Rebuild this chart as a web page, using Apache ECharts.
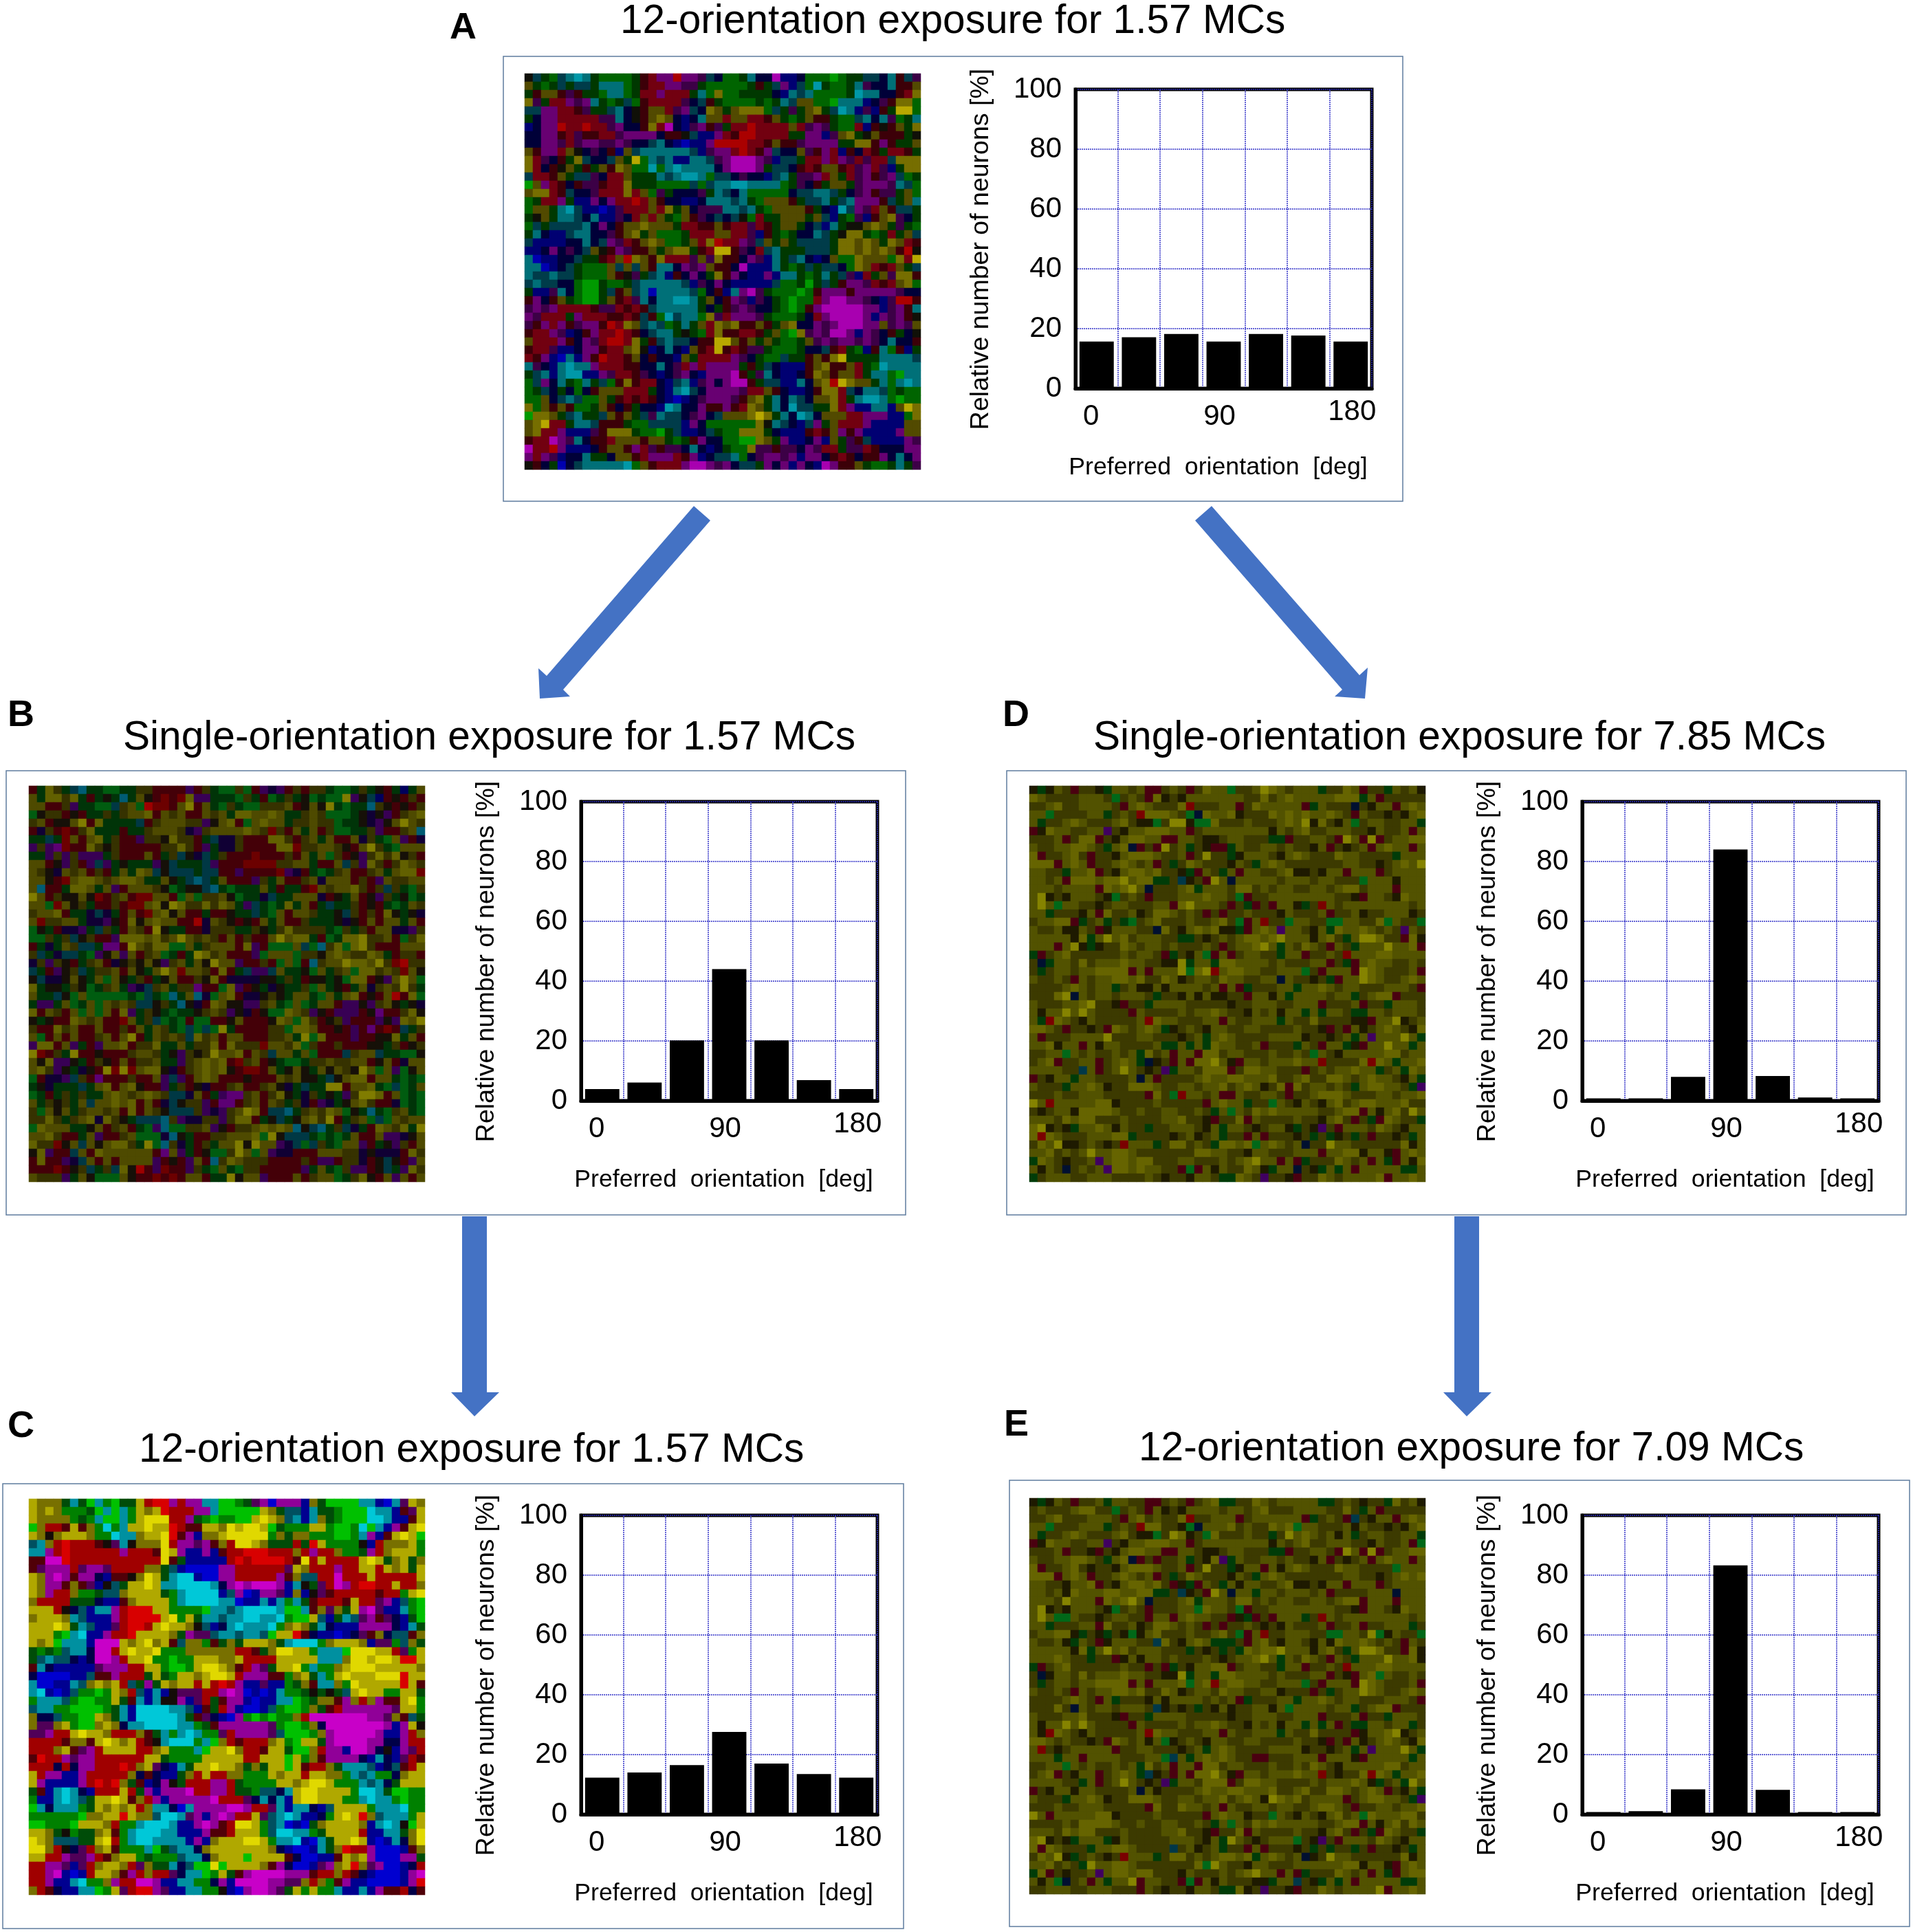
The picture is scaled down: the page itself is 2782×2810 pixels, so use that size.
<!DOCTYPE html>
<html><head><meta charset="utf-8">
<style>html,body{margin:0;padding:0;background:#fff}#c{width:2782px;height:2810px}</style>
<script src="https://cdn.jsdelivr.net/npm/echarts@6/dist/echarts.min.js"></script>
</head><body><div id="c"></div>
<script>
const orientations = ['0','30','60','90','120','150','180'];
const barsA = [15.7,17.1,18.2,15.7,18.2,17.7,15.7];
const barsB = [3.9,6.1,20.2,44,20.2,6.9,3.9];
const barsC = [12.3,14,16.5,27.6,17,13.5,12.3];
const barsD = [0.8,0.8,8,84,8.3,1.1,0.8];
const barsE = [0.8,1.1,8.4,83.3,8.2,0.8,0.8];
const titles = ['12-orientation exposure for 1.57 MCs','Single-orientation exposure for 1.57 MCs','12-orientation exposure for 1.57 MCs','Single-orientation exposure for 7.85 MCs','12-orientation exposure for 7.09 MCs'];
const letters = ['A','B','C','D','E'];

// Orientation maps: one letter per cell (48 rows x 48 columns).
const mapA = [
'k43g4cCc 3gggg31r mmRmm645 gg3c55Mb b5gggGg3 3445c146',
'o3g34344 3cccg31r rmm663gg ggg3134m b4gC3gg3 c655c11o',
'31oo1613 3gccg3rr mrrr3cgy gg33335b c4cgggg3 Ccc551ry',
'y63rrm6m c3g34g1r rrr65413 gggg3g3c 4ooggGcc cb561yyg',
'44mmrr16 334c5k1o or6m45yo 3oyyyg43 63oy34Cc b6b13YYg',
'35mmrrrr r66c5k1o yo5b5coo roorr1o3 g3o113gg 4c5c6g3c',
'b5mmRrrR rr6m551y rM5b6m16 3rrRrrrr or6m63gg rb1k1o3y',
'55mm1r61 1rr6mmmm 511k4bbm r1RRrrrr 33mmb6oy 3ko1113k',
'55mm6r6m m66m6554 c5bBbbmR RRRrr1o1 16mmmm33 yy1m133o',
'o1mmrok5 651bo4cc cccc4b6m mrRr1m45 5o61mrb1 5r13rr13',
'yr6513y4 554o3Ygc 4cbbcc46 mMMMm6b4 43rrmrm6 r6rr4yyy',
'yr51ko31 3o1yoggC gcCcccc5 mMMMm344 51r1oo1r 6mr6b3yy',
'4rr1o344 65rro333 c4cCCcg4 45655b4c 366mro3r 6m16m4g3',
'Gomr1516 61rry333 gggg4g4c cCCccccg 36513oo3 6mmm6c4g',
'oyyr1455 6rrryrog 6355563c 45cggggg 544cc435 6m1663og',
'g3rrm3bb m5mrrRro 155bb5cc c4c3gooo 1344c34c mmm143oc',
'goo3cC4b bBb6rrro ry3o5666 cc4c3goo oo135bC4 m6ro1443',
'3ko3cc45 cbb65ror o3go1654 54kgr33o oo3o4b3g 6b1oy653',
'g434444c 5m51ooyo oo3rr11o 1rr6r13o o354bc3k koyo363g',
'3c5bb4cc 5561oy3o ggg3rrro orr6b13g 355c43ky y3g3r3o4',
'4bbbb55c 54m6r1oy ogg3oryR rrm64o3o 344443yy oyo3yor1',
'bb5m5654 ok1m611o 3oyy31rY Y165r4c3 334443yy oyoyo1Rk',
'cBbb5543 31roRyo1 yrrr6o6y 115m6bc3 4c5b5ogg yooogyrY',
'ccBb543g ggo4o4o1 cc5m6mo1 15Mbbbc3 g343445g yor1ro34',
'c44c443g ggo1k634 cb15m53y 1m5bbmbc c3g3c346 br3o6yy1',
'4c4455gG G3gg34cc ccc4b65m 5bbbbb4g g3G3431m m6r1royg',
'3bb6c5gG G341o4cB cccc4g51 bcmM63gg gGg1mmm1 mmmmm655',
'1m51o3gG G3o1r6c5 ccCCc3o5 1m6b653g GggrmMMm m65b6RR1',
'6m6mrrrr 166r1r14 ccccc353 16m6553g Gg1mMMMM Mmmb6m1c',
'm6rrr3mr rr11r141 gC4ccgy6 rmmm63gg g35rmMMM Mmbm6m1k',
'61mrm16m m1Rryo4c 4g3c3ory oy11o13o y55m6mMM Mmmo6m6o',
'1rrm6b51 mrrRr154 cc3k3gry 11rr13og Gy6m6MMm bm65135k',
'orrrm15m 6rRRry31 4c44511Y Yo1o3o3g g3o6m6mm 6m65c551',
'1rr6bb5m m1rroykb 5c5bo1rY 1r1663gg g35541r3 gb1cg1b3',
'r1mbBcbm 1Rrr1o51 55bo3rrr rm653gg4 331o1yY3 333cccc4',
'c65bcCcc mrrr1155 c56rmrmm mm31345b bb1oy11o r3gCcccc',
'34cbcCCb bm6rr165 b56m5bmm mM136c5b b51yo1oo r3ccgGcc',
'g4m5c3gc 34g1y1rr 5b4cb6m5 mMM1344b bc5oyRYy oo3cgcCc',
'g34535g5 1ooorrr3 5bcC45mm mm6rro15 bb51yyr4 5cc4g3gg',
'ggo54c4g go31r1r1 5bBb56mm m61oy3c5 c45ooyr3 cCCcgGgg',
'ygo1o1gg 3o151355 bCc55m11 m1ryo3c5 C4433yrm bbccboYy',
'Gyyo34c3 34o1o346 c4456m54 oooyYy3c 5Cc5ooor rmmmbbgy',
'oyYrr3cc 41113gg4 444bm5gg ggggykc4 5b4m3orr rmbbbboo',
'oyrrmbbb 61yyy3gg G34bb543 ggyyy35b bb1r1om1 mbbbbmoo',
'1rrMm6c5 11rooo1o o3g31m55 ggGGyo3m bb5mbo36 14bbbbm6',
'MrrRmbbb 51oo1mr6 1665c5b5 3ggy6616 65m6rr36 6r1555mm',
'mrm6b55c 335oo1rm mmr1mb54 4cg56mm6 mbmm51r1 511m5c5m',
'k153B54c ccccCgo1 rrrmMMm6 m5443m5m bm5bMm11 o3gg3c36'
];
const mapB = [
'13ld34c3 3gg33dd1 11161d3g gdg16561 d1dd3gg3 d3k13b3o',
'o3lldl31 3k3c3ok1 r1rl6633 3gd31g3d 3kg3ggy6 k4b1k1d1',
'oo11d633 gg4dogRr r1oy1o3g d3ggdddo 1koky3g3 3cdk1k1d',
'gkdd1k13 3d3dool1 odo11odo 3lloolo3 3dodggg3 k5k61dol',
'do1kkoy1 l333341d ooodd6ko l1goloo3 ddoddg33 k56koyod',
'15d1r1dl 333133do ood56doo oolodrd1 o3o1dgg3 3d611doc',
'3343ro1o l3d116dd kldd1345 5d111lld 1do3o11o 5d3go615',
'6d6mr11l dkd11111 ddld1635 5d1111ll rddoodk1 oyd3gooo',
'336d6d66 63d111o1 3d4k543d 111r111d 1o3ogd1k 6dldlkd1',
'oo1k6d16 463k3336 k4333461 11rrrrdd oo311o4d 6ld1dlod',
'odk5odo1 d13o3lo4 k4443441 161111r6 513g3do1 1do3ollr',
'ook1roll odollo33 ok34c43o 1116d3o1 1do5ooo1 d16oddoo',
'oc113llo 3o61oood kg3kk4c3 g333o313 31rodool d1d4d3gd',
'yo1dkkok r1do1rro o1gogddo kg335433 ooo51k3o 1k6d3kg3',
'oogrokd3 11d1rrol kylddldl o3643g3l 3o13433d 1k13g3od',
'dool1335 4531o1ro lko11311 k3343go1 ood33k4d 1d1lk3k5',
'orddoo35 56k1lkol oo11R5od k1k1o3o1 1d333k5k 1o1oo3o1',
'gk315563 4d31od1y k33115dd d33dk3dl dddd3gd3 d1oo556d',
'ggd3d4kd 116lllol doyodod1 o1d11oyo ll31g3ll yddo1gdl',
'1353od44 3mm1yodl lggo3doo o1l61ggg o4gcdlgl yd111ooo',
'd435443g 6ko6o1do g313yldo 1116gooo gddkolod dlo31dd1',
'5d6dk13d o15kdkok 6do3okyo o611d1go g1cdooyl loydrRdd',
'4316kd43 ddo1ok3o yorood1l 134664o3 3kgo3dog lldodrok',
'k455kok3 ogok3d13 ko11dkl1 5555kk3d 31kk3kgl l1k6oyog',
'l3kk3dkg 3do3654d o3ddm11g l61k35k3 3dgo3k13 o5dodyd3',
'o334kgog gggg3g43 gc3oc5go l155kdk3 oo3go3ol 1k1oR1lg',
'3663og3o godod44k d3ck51lo kk66do3g og3oo166 k6dok3k5',
'l1od1ogo go1l63dk 3g33kdod 6k51kggl od6k1666 1km11dlk',
'k3k11lod o11ro3d4 g3g1gg11 ko111klo gld1kd61 116k6loy',
'd11ldo11 o11d1o3o d3g4g4gy 31111ddg llo11k16 1m1r143d',
'og1o1o11 do1oy13o dod4ldo1 oo111ddo 3ygl1116 11kkl3o1',
'6ll1o631 6ool1ddl 33o3ddl1 ldddrood lgd11d11 1kk3d1kd',
'yr1d3y11 k111dood 3k6dkdyo ol1od4oo 3og1114d oo433ggk',
'okl66k31 dk1o1ddo 336dolol 1rdo1k3g g3ddoddo o1ko15oo',
'old6k35k 1yryroll k51dolol k1rr1o3k ok3okodk yogo6gko',
'g15564d1 m111d11o 6461olo1 11k111od okk34kol l1oo3g3g',
'3k533343 ol1olk11 63d1k511 do11dok5 3433yy1o ol3g4g3o',
'g313d3d3 3olodolo d445o136 mmdo1dlk 35d3k36d yyl1og3g',
'o3dkd3o4 oolol1o1 54kdd61m m1do1od3 d51653ko ld115g3g',
'dgoko3do odo1l1od k444d656 doyl144c 3dodlogk 3c3gdo3g',
'ddld3dol 5ldk3444 cd655dd6 dll13k43 koldy13d og4godoo',
'glooo33k o1do13g6 cggddo6k 1ddololo ck4c3d45 31lodl3y',
'oold113o 611doggg 5ck311dd ooolgyk4 443g3g3o 11o665ko',
'lddrko4o kolld3yg cd531d3o oykyoo65 4g4d3goo 613k6d1o',
'kl6114o1 loooooo1 mo631kgg dyogo655 111ooodd 5k5551ld',
'1l11654o 1o1oooo6 1k16o1cd loddd111 1d1661dd 51k4k16o',
'111r1kd4 3d4lkR16 r116d3go 3gdd1111 163o3gd6 61k436ld',
'oddd63ok gggok11r 1r1oo133 ykoo6111 o1doog3d lk1o6o1o'
];
const mapC = [
'yooo3c3G cgG33yrR RmrmmccG Gg36mBmm mbo3GGGG ccbBc6yo',
'yoyoggg3 GcGcgyoy RrrrmmcG GGGGyo34 4bc33gGG GCccb16y',
'yoooog3g cGGcgyYY Yrrm3gGg gGGyYyo4 cbco3gGG GCCcbb1y',
'Gorr1y1o gCgcyyYy yRr11yyo YyYYyG3g ggyygGGg CGcbm1yY',
'yokoyyyo ggCccoyy YR1mbooy YYYYYgo3 oogggGGg cmb1yYyG',
'4corRrrr 1k6ckooo Yrmm6m1o rYYyo333 r3Rygggg kbroooyg',
'ccmrRrrr rrrmrrr1 Yymbbmb1 rrRRRrrr ormrrogg 3mroyyyg',
'11MMRrrr rrrrrrrr Y13bbbbb rRrRRRRr 1Yryrrrr yYy3oy3o',
'16mmmr6m m6rrrroo 34bBBBBm mrrrrrr6 yorrrmrr yyryoy3y',
'yomMm1mm 5b11koYy 3cCCbBBm mrrrrrm1 o44rrMrr ryrrrrry',
'yomm1o16 bk43yyYy ccCCCCc5 mMmMMMmb ck36rMmr RRrryrro',
'yomrrogg 344oyyyy 3gcCCCCb 4mBbmm6b obk61rrr rr1rrgyY',
'orrrr333 5bb1oyyy ygcCCCCc cBbbcbcg c31rrr1y rr6mb4gG',
'yyyrk54b ccmrRRRy yggggGcc 4cCCCCcG Gc1o6o3y mM6bbcgG',
'oyyyoc4b bbmrRRRR yYgy3cc4 ccCCccCg GGy4b3c4 6m165b3G',
'yyyYy3c4 bb6rRRry Yyyok4b5 cCcccCgo yo3c5bbb mmmm5bc3',
'yyygGcCb bmrrRyyy yo3m664c c4cc4Gyy R15bbBb5 61o5441o',
'yoyGcccb MMMyoyYo y14oog13 o3yyyo3c CCCgoyyy ob66g4o3',
'3g3g4cc5 MMryYyyY gggooooo orr13oYY yygcccGY YYyyr6gy',
'34c445b5 MMmryyYg gGggyyyo oyrrrryy yyycccoY YyYYyRRy',
'1c5bbbbb 6mmmrryy gGGgyYYy o1rm63yy YgcggoyY YYyyyyyo',
'5BBBBbb4 11mrrr3y 3gyyoyYY yrmmm11g oy3cgyYy yyYYYRyy',
'cBBbbc4o yoyr43m3 yoyyryrR rmbb6bbg 3o1ccogY yyyyyRy1',
'cCbBb4gg Ggyor4bc bk666rrm MmBbBbcg g3k3k34y Yyyggyy3',
'gccc4gGG ggy31cbc kkmb6r31 mmbBbbcc Gg3oo1mo rom11yYg',
'4ccggGGG Gg3cbCCC Ccc4b13r mbBBb4gG Ggo31rmm mmmm6yyg',
'o554ggGG yo3cbCCC CCc3165b BmgGgGgg orMMMMMM Mmm6o143',
'o66oygGG oyo5ccCC CCccg31m mmmmm6gG Ggo5MMMM MMMmbmyk',
'66mrryYy yorrro13 cgcCcgg6 rmmmm64G GGgomMMM MMmbbmro',
'rrrr1oo1 yYyoyr1k cCCCgcGo r1rrroyg Gyy3mMMM Mmm55mrr',
'rrroy16m ryyyyrro ygggcGyy Yorr1yy3 GGormmbM Mm5kbm6r',
'1Rrrm6mm rrrrrryy 3ggggyyy yyrryyyG ygo1mmmm 5bc5b6r1',
'rrr5r5mm rrrRroy6 5bc3yyYy yo3o3yyG y1rro3cc c4b541ry',
'yrmmbbmr rrrro515 bb3oryrr oogggyoy yryyoogc 4cgg5oyy',
'ymbbbbmr RrRo31b5 mk3rrrmm r3ggggyy oyYYyggg c4c53yyy',
'31bcCc5b rrryr3mb mmmMrrmm r33g445c yYYyyyyg CCc3GGgg',
'gbbcCc43 yyYy1orm bmmmmmMr rr65c5cb yYYyyygg cCccgGgg',
'Gc5cccg3 yoyoyroc c5Bcmmmm MMmrr6cb cc5b4yyy ygcccCgg',
'ggggggGo oyyRyoo4 CCc6mbmM mrry64cC cbb5gyYy Ro4cccgy',
'GGgggGyy yorggcCC CcbbmMm1 rYYyg4cB bB3oyyyy obcCckGy',
'yyo3kg33 oy1gcCCC ccbbbm11 ryyyg4CC ccg3yyyy rbbcc3oY',
'Yyo44433 yYrgcCCc cccbmboy yyYYygcc CbBc3yyY ybBbc5oY',
'YYork56r oy1gggcG 34cc5oyy yyyyyo5b BBbc3oRr rmBBBb1o',
'yyrrm66m r1oyyg3g gg4cc5oy yyGyyyy1 5BBbb1yo ymBBBmm3',
'rrmm6b6r oyyor6o3 3c54GGYG yyyyo1m5 BBb6moyR o6mBBb5r',
'rrmMbBbr yyo1mror r65ccGgy 31mMMMMm mm1rror1 5bBBBbmM',
'rrmbbcCg gomrrMMm bbccgg5m bMMMMmm6 6orog1mb bBBBBbmR',
'or15bbcc Ggy6rRRm 6bbccggk bBmMMm63 ygyggcbb cbm11r51'
];
const mapD = [
'k3kod1dd k3oodo11 dod1dloo gddoylod ooo3ddlo 1dd3odok',
'loddddoo odgdod1l kdkooooo ooddldol ooooolll 3o1ddddd',
'ddolddoo ood1olod ddlrdddo o1dloooo o13oddd5 dkoo1olo',
'oogddddo o3dodrll lodg5loo lkdddlol oloolod1 oddkdkol',
'o3ddolod ddoldkkg dyykggld ddodddol oykldkog dooddoo3',
'1klooddo o6dkooll loo1dooo oooookod olddoood dkoddo1o',
'dddo1dll 1dkolloo 11oodkkd ooddd331 ddood1yo 1y1dooll',
'oddoollo d3ol51d1 ydo3dk11 3oddoodo ddko1dkd o1oloo1o',
'l1ddold1 ddkolllo ddo1dydd 3kooodko lodddloo dddd3ooo',
'lll1olo1 ddolodo1 d3dloddd kod3olod ddddddoo ddkdoloy',
'oodd3ool 1dkollol ddk31od3 o1ooddol kkdkoo1o oo1doooo',
'oodo1lll ollyoll3 3d4kd1yo 5ooooodo oodooddd goookooo',
'ooodoooo 1lolyo5d ddol3ooo dlldodoo ddoodoll dooo1ooo',
'oykdkooo dkgdod1d ddoooloo dg1ddooo oooooddk 1oodkloo',
'oyogoodd kdoodddo o1lyoood 1d31d1oo k3drodoo oooooodo',
'oo3dddko 1lddokdl lodod1d1 ddodddko dddo1ddo kddoookd',
'dooll13d o3d3gdol dddoddol dg1orddg ooddggoo ddlgoddg',
'oddokkod 1kooodd5 ldkololk k31olo6o odko3loo lodod6od',
'oooookl3 oyoldooo dd33dkdo dollolyo ookold3o yyldd1lk',
'ooo1oyk3 kddlodoo dodddod1 doolyo3o dlod1od3 oooyool1',
'31dolddd dddodood 13dkog1o 1doodd3o o1ddodro oolloooo',
'd53oodld oooloodd kky3oo3l loooodod ddoo1d31 olooddod',
'd3doodoo llll1o1o ooyglyro llooddoo ogd1ooo1 ylodddo1',
'oddod1od oolloldd lokdoodl ooddoo5o ddkd31oo yloddolo',
'ddddolod oo3dokko koooodo1 o13dddoo 3oolodoo dddoood1',
'dddly5od oodoood3 ddkokokk dd1ooko3 oooodoo3 doll1ddd',
'odddooly ddk1dd3o oooddddd kddooodd ooo1dddo 1dd3oood',
'okooyoyo dddd1odd ddodoolo ddkodoko o3o3ood3 3oodoood',
'o3rlodko dddddorl oodddoo1 oddooo3o ddlddddk k1ooykdo',
'llod1ddk d1lodolo 3kdodkoo ddoodddd oddk1d1o kdolodkl',
'o1dddooo oydddood ddkdo3ol oddddooo okddkdo3 o6oooyo3',
'oolkoo1o kooddddo 33o3o3lo oddo1ddd 3od1oo3k 1ooyoo3o',
'ddoogodo ddodo3ld o1oo1lld oodddodd odgodkoo ooolldoo',
'dol1ddoo 1dolo35k d1o1llyo k1oodooo loordddd lrlo3ool',
'oooodd4o 1doyodkd 63oodlll 1dlloodd d1dodool oo3do3lo',
'1dkoo3oo ddddo5o1 ddddoloo lloooldd olddllod oloodko3',
'oddd3ool okddlllo ddoodool dolokdl1 ldoodod3 ollood36',
'dddoddoo oddddd1l dgroodo1 1oddood1 ddolllod ddoodool',
'yorooooo llkddddo ddddd1ol oo3ddgod kodkoldo lloooldd',
'dkdookll lloddodd ooddod3o godloloo oooddoll 1okoldyo',
'ooodloll dddodddd oolddk1d dl1odddd oddkold1 d31lodd3',
'lykdk3oo lokodd3d dooodko3 oodkdook 3dk6d1oo odlodkoo',
'lrlodddo ooll3ddd dkdokdo3 dd1o1ddd kd3d3kd3 d1ddkd3o',
'dloykkdo dkdrooo3 dlldod3l lolgolod o5ddyood dddddlko',
'ooldodoy oolloddd ddddlloo ddkooddd ooo1ooll kook1olo',
'3lodkddo 6ollolld ddoodddo dolyoo1o 13dddlod o1o31okl',
'okod5dod o6lloloo dd1g1oko ddlok3oo 5dk3o3o1 ooooo33o',
'3doooddo ooddddod kddkood3 3lod6ddk 1ddlodoo ool1oolo'
];
const mapE = [
'k3kod1dd o3oodd11 dod1dol3 3ddlodoo ooo33dod kdd3ldok',
'dodddoll ddgdod1o kdkooood oodolddd ooooddld 3o1ddddd',
'ddoldddo ood1oldo ddlrddoo o1dooooo o13dod14 dkoo1olo',
'oogdddoo o3dodrll ddkg5ooo ldoddlol goodddok oddkdkol',
'o3ddolod ddoldkkg dylkdgld ddodd3dy olodoko3 dooddoo3',
'1klooddo o6dkooll loo1dooo oooookod olddoood dkoddo1g',
'dddo1ddk 1dkolloo 11oodkkd ooddd331 ddood1yo 1y1dooll',
'oddoollo d3ol51d1 ddo3dkl6 3oddoodo ddko1dkd o1oloo1o',
'l1ddoldk ddkolllo ddo1dydd 3koo1oko lodddloo ddddgooo',
'lll1olo1 ddolodo1 d3dloddd kod3olod ddddddoo ddkdolol',
'ooddkool 1dkollol d1k31od3 okooddol kkdkoo1o oo1doooo',
'oodokloo ollooll3 3d4kd1yo 5oo3oodo oodo1ddd dooo5ooo',
'ooodyooo 1lolyo5d ddol3ooo dlldodoo ddoodoll 1ooo1ooo',
'oykdkooo dkgdod1d ddoogloo dg1ddooo oooooddk 1oodkloo',
'oyoggodd kdoodd1o o1oloodd 1k31d1oo o3drodoo oooooodo',
'oo3dddoo 1lddokdl lodod1d1 ddodkdko dddo1ddo 1ddooo3d',
'doollk3d k3dkgkol dddoddol dg1orddo ooddggoo dygkoddg',
'oddok3od 1kooodd4 ldkolo33 3d1oldko odkokloo lodod1od',
'oooookl3 oyoldooo ddd3dkd3 d3lollyo ookold3o yyldd1lk',
'ooolodd3 dd1kokoo dodddodk doolyo3o dlod1od3 oooyoolk',
'31dolddd dddodd1d 13dkooll 1doodd3o o1ddodro oolloooo',
'd5koodld oooloodd kky3oo3l loooodod ddoo1dk1 olgoddod',
'd3doodoo llll1o1o oolgolro llooddoo ogd1ooo1 ylodddo1',
'oddod1od oolloldd lokdoodl ooddookd dd1d3doo yloddolo',
'ddddolod 1o3dddko koooodod o13dddoo 3oolodoo dddoood1',
'dddld5od oodoood4 kdkd3dko kddookog oooodoo3 doll1ddd',
'odddoold ddk1dd3o oooddddd kddooodd ooo1dddo 1dd3oood',
'okooyoyo dddd1odd ddodoolo ddkodoko o3o3o1d3 3oodoo3d',
'okrlodko dddddorl oodddoo1 oddooo3o ddldddd1 koolykdo',
'llododdk d1lodoko gkdodkoo ddoodddd oddk1d1o kdolodkl',
'ordkdooo oo1ddood ddkdo3ol oddddooo okddkdo3 o6oooyo3',
'ooo3oo1o ooodddoo g4o3olol odd11ddd ooo1oook 1ooooo3o',
'ddoogodo ddodo3ld o1oo1lld oodddodd odlodkoo ooolldoo',
'dol1dkoo 1dolo34k d1o1llyo k1oodooo loordkdd lrlo3ool',
'oooodd3o 1doyodkd 63oodlll 1dlloodd ddodoool ok3do3yo',
'1dkookoo ddddo5ok ddddoloo lloooldd olddllod olo1dko3',
'oddd3ool okddlllo ddoodool dolokylo ldoooo1d ollood36',
'dddoddoo oddddd1l ddloodo1 oddoodoo ddollod1 ddoodool',
'yo1ooooo llkddddo ddddd1ol ookddgod kodkoldo glooolld',
'ddddodll lloddodd ooddod3o godloloo oooddoll 1okoldlo',
'ooodloll dddodddd oolddk1d dl1odddd oddkold1 d31lodd3',
'lykdk3oo o3kodddd dooodko3 yodkdooo gdk6d1oo odlodkoo',
'l1loddd3 oolloddd d4dokdo3 dd1o1ddd kd3d3dd3 d1ddkd3o',
'dloyk3do dkdrooo3 dlldodol lol3olod o5kdyood dddddlko',
'ooldod3y oolloddd ddddlgyo ddkooddd ooooooll kook1olo',
'3l1dkddo 6ollolld ddkodddo dolyoo1o 13dddlod o1o31oll',
'okog5do1 o3ooy1oo dd1g1oko dddkk3oo 4dk3o3o1 ooooo33o',
'ddoooddo ooddd1od kddkood3 3lkd6ddk 1ddlodoo ooy1oolo'
];

const symbols = 'oOdlyYrR1gG3cC4bB5mM6k'.split('');
const paletteA = {o:'#524a00',d:'#443e00',l:'#665f00',y:'#766e00',Y:'#b8a800',r:'#720010',R:'#aa0000','1':'#3c0008',g:'#006400',G:'#009a00','3':'#003800',c:'#007078',C:'#0098a8','4':'#003c4a',b:'#000072',B:'#0000b0','5':'#000038',m:'#680072',M:'#a800b0','6':'#3c0046',k:'#101008'};
const paletteB = {o:'#4e4a00',d:'#363200',l:'#626000',y:'#807c00',Y:'#a8a000',r:'#6c0000',R:'#9c0000','1':'#440008',g:'#005c10',G:'#007c10','3':'#003408',c:'#005c74',C:'#007c8c','4':'#003844',b:'#00005c',B:'#00008c','5':'#100034',m:'#5c0074',M:'#7c009c','6':'#380054',k:'#161008'};
const paletteC = {o:'#787000',d:'#605800',l:'#908800',y:'#b0a800',Y:'#e0d800',r:'#a00000',R:'#d80000','1':'#500008',g:'#008000',G:'#00c000','3':'#004c08',c:'#0090a0',C:'#00c8d8','4':'#005060',b:'#000090',B:'#0000d0','5':'#000048',m:'#900098',M:'#c800c8','6':'#500058',k:'#140c08'};
const paletteD = {o:'#525200',d:'#3c3a00',l:'#666400',y:'#858300',Y:'#a8a400',r:'#7a0000',R:'#900000','1':'#4a0010',g:'#006818',G:'#007818','3':'#003c08',c:'#005070',C:'#006080','4':'#003848',b:'#001060',B:'#001878','5':'#001030',m:'#500070',M:'#600080','6':'#400060',k:'#1e1a00'};

const fontFamily = '"Liberation Sans", Arial, sans-serif';
const panels = [
  {map:mapA, pal:paletteA, bars:barsA, frame:[732,82,1308,647], heat:[763,107], plot:[1564,130,431,435], title:[902,2], letter:[654,14]},
  {map:mapB, pal:paletteB, bars:barsB, frame:[9,1121,1308,646], heat:[42,1143], plot:[845,1166,431,435], title:[179,1044], letter:[11,1014]},
  {map:mapC, pal:paletteC, bars:barsC, frame:[4,2158,1310,647], heat:[42,2180], plot:[845,2204,431,435], title:[202,2080], letter:[11,2048]},
  {map:mapD, pal:paletteD, bars:barsD, frame:[1464,1121,1308,646], heat:[1497,1143], plot:[2301,1166,431,435], title:[1590,1044], letter:[1458,1014]},
  {map:mapE, pal:paletteD, bars:barsE, frame:[1468,2153,1309,649], heat:[1497,2179], plot:[2301,2204,431,435], title:[1656,2078], letter:[1460,2046]}
];
const arrows = [
  [[1009,736],[1033,757],[819,1003],[829,1013],[785,1016],[783,972],[795,983]],
  [[1762,736],[1738,757],[1952,1003],[1941,1013],[1985,1016],[1989,971],[1977,982]],
  [[672,1769],[708,1769],[708,2025],[726,2025],[690,2060],[656,2025],[672,2025]],
  [[2115,1769],[2151,1769],[2151,2025],[2169,2025],[2133,2060],[2099,2025],[2115,2025]]
];

const grid=[], xAxis=[], yAxis=[], series=[], title=[], graphic=[];
const cats48 = Array.from({length:48},(_,i)=>i);
panels.forEach((p,i)=>{
  graphic.push({type:'rect',z:-10,silent:true,shape:{x:p.frame[0],y:p.frame[1],width:p.frame[2],height:p.frame[3]},style:{fill:'#fff',stroke:'#5f7c9e',lineWidth:1.5}});
  title.push({text:titles[i],left:p.title[0],top:p.title[1],padding:0,textStyle:{fontFamily,fontSize:58.6,fontWeight:'normal',color:'#000'}});
  title.push({text:letters[i],left:p.letter[0],top:p.letter[1],padding:0,textStyle:{fontFamily,fontSize:54,fontWeight:'bold',color:'#000'}});
  // orientation map
  let g = grid.length;
  grid.push({left:p.heat[0],top:p.heat[1],width:576,height:576,show:true,backgroundColor:'#3a3a00',borderWidth:0});
  xAxis.push({gridIndex:g,type:'category',data:cats48,show:false});
  yAxis.push({gridIndex:g,type:'category',data:cats48,show:false,inverse:true});
  const cells=[];
  p.map.forEach((row,y)=>{
    row.replace(/ /g,'').split('').slice(0,48).forEach((ch,x)=>{
      cells.push({value:[x,y,symbols.indexOf(ch)],itemStyle:{color:p.pal[ch]||p.pal.o}});
    });
  });
  series.push({type:'heatmap',xAxisIndex:g,yAxisIndex:g,data:cells,progressive:0,silent:true,animation:false,emphasis:{disabled:true}});
  // histogram
  g = grid.length;
  grid.push({left:p.plot[0],top:p.plot[1],width:p.plot[2],height:p.plot[3],show:true,backgroundColor:'#fff',borderColor:'#000',borderWidth:5});
  xAxis.push({gridIndex:g,type:'category',boundaryGap:true,
    data:orientations.map(v=>v==='0'?{value:v,textStyle:{padding:[7,16,0,0]}}:v==='90'?{value:v,textStyle:{padding:[7,12,0,0]}}:v==='180'?{value:v,textStyle:{padding:[0,0,0,4]}}:{value:v}),
    name:'Preferred  orientation  [deg]',nameLocation:'middle',nameGap:97,
    nameTextStyle:{fontFamily,fontSize:35.7,color:'#000',padding:[0,16,0,0]},
    axisTick:{show:false},axisLine:{show:true,lineStyle:{color:'#000',width:5}},
    axisLabel:{interval:2,margin:13,fontFamily,fontSize:42,color:'#000'},
    splitLine:{show:true,interval:0,lineStyle:{color:'#3030c8',width:1.5,type:[2,1]}}});
  yAxis.push({gridIndex:g,type:'value',min:0,max:100,interval:20,
    name:'Relative number of neurons [%]',nameLocation:'middle',nameGap:118,nameRotate:90,
    nameTextStyle:{fontFamily,fontSize:37.5,color:'#000',padding:[0,30,0,0]},
    axisTick:{show:false},axisLine:{show:true,lineStyle:{color:'#000',width:5}},
    axisLabel:{margin:20,fontFamily,fontSize:42,color:'#000',padding:[0,0,6,0]},
    splitLine:{show:true,lineStyle:{color:'#3030c8',width:1.5,type:[2,1]}}});
  series.push({type:'bar',xAxisIndex:g,yAxisIndex:g,data:p.bars,barWidth:'81%',silent:true,itemStyle:{color:'#000'},animation:false});
});
arrows.forEach(pts=>graphic.push({type:'polygon',silent:true,shape:{points:pts},style:{fill:'#4472c4'}}));

const chart = echarts.init(document.getElementById('c'),null,{renderer:'canvas',width:2782,height:2810});
chart.setOption({backgroundColor:'#fff',animation:false,title,grid,xAxis,yAxis,series,graphic});
</script></body></html>
